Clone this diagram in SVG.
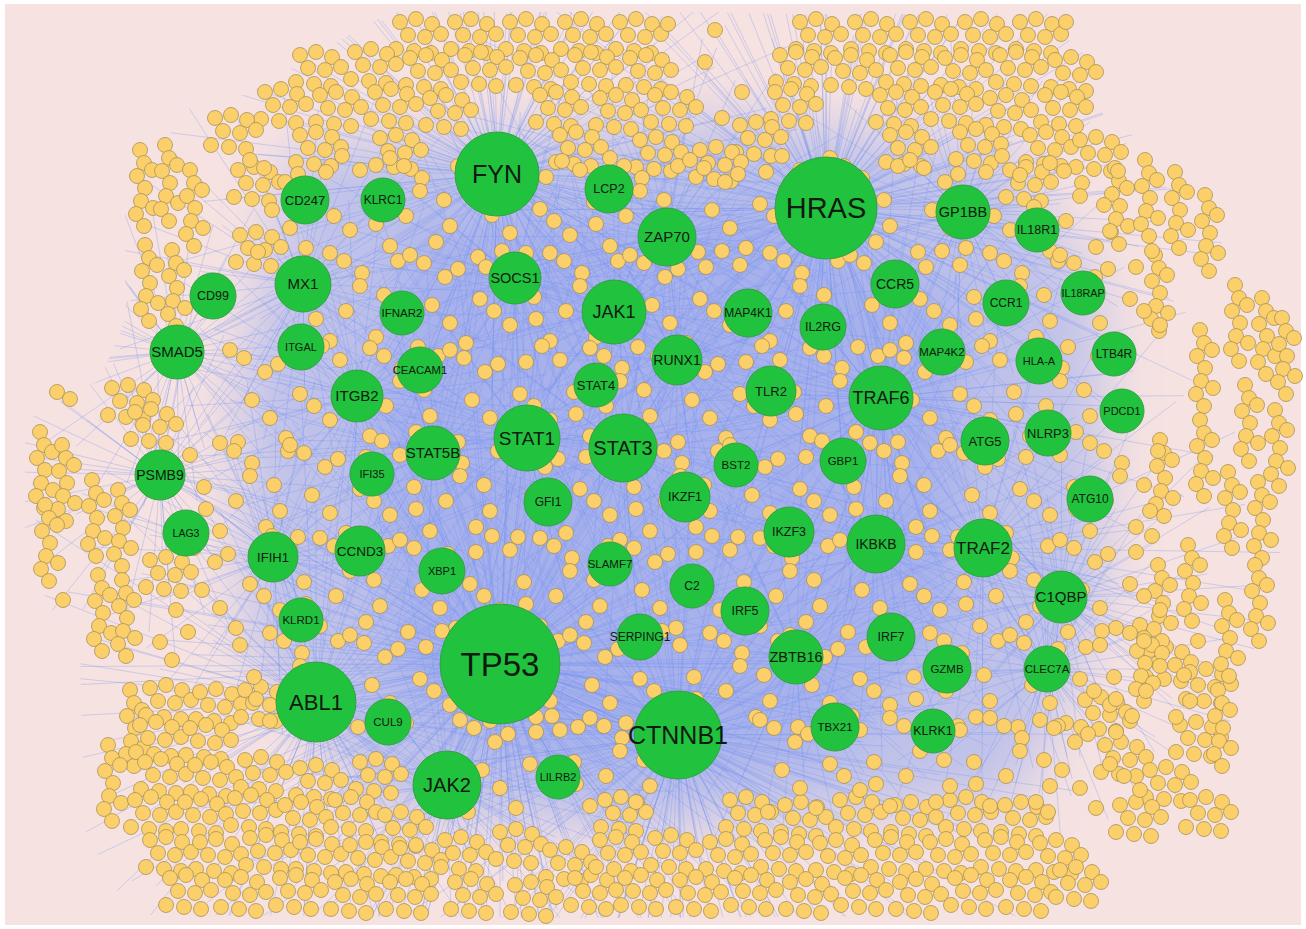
<svg xmlns="http://www.w3.org/2000/svg" xmlns:xlink="http://www.w3.org/1999/xlink" width="1306" height="929" viewBox="0 0 1306 929">
<style>
.hub{fill:#21c23d;stroke:#35a041;stroke-width:1}
.lbl{font-family:"Liberation Sans",Arial,sans-serif;fill:#0f1a10;text-anchor:middle}
</style>
<defs>
<filter id="blur" filterUnits="userSpaceOnUse" x="0" y="0" width="1306" height="929"><feGaussianBlur stdDeviation="28"/></filter>
<clipPath id="hull"><path d="M245 95L390 12L700 12L780 14L1070 14L1105 120L1160 150L1240 270L1300 300L1300 560L1240 700L1230 860L1100 915L600 918L130 915L85 830L80 660L25 560L25 420L100 380L125 320L125 140L200 100Z"/></clipPath>
<path id="r" vector-effect="non-scaling-stroke" d="M0 0L400 0M0 0L350 60M0 0L380 140M0 0L300 170M0 0L260 250M0 0L180 330M0 0L120 300M0 0L60 390M0 0L0 350M0 0L-70 400M0 0L-150 310M0 0L-220 320M0 0L-260 230M0 0L-380 180M0 0L-330 90M0 0L-410 20M0 0L-360 -60M0 0L-390 -150M0 0L-300 -190M0 0L-250 -280M0 0L-180 -300M0 0L-100 -380M0 0L-30 -330M0 0L50 -400M0 0L120 -320M0 0L200 -340M0 0L240 -250M0 0L330 -220M0 0L360 -120M0 0L420 -60M0 0L280 40M0 0L240 120M0 0L150 200M0 0L40 260M0 0L-120 230M0 0L-240 120M0 0L-280 -20M0 0L-230 -150M0 0L-120 -240M0 0L30 -270M0 0L170 -230M0 0L270 -120M0 0L200 20M0 0L190 90M0 0L120 160M0 0L20 200M0 0L-90 180M0 0L-180 100M0 0L-200 0M0 0L-170 -110M0 0L-80 -190M0 0L60 -200M0 0L150 -150M0 0L210 -60"/>
<g id="a" fill="#fbcf69" stroke="#a8925a" stroke-width="0.8"><circle cx="0" cy="0" r="7.5"/><circle cx="16" cy="-3" r="7.5"/><circle cx="32" cy="2" r="7.5"/><circle cx="8" cy="13" r="7.5"/><circle cx="25" cy="15" r="7.5"/><circle cx="41" cy="12" r="7.5"/><circle cx="-4" cy="27" r="7.5"/><circle cx="14" cy="29" r="7.5"/><circle cx="31" cy="31" r="7.5"/></g>
<g id="b" fill="#fbcf69" stroke="#a8925a" stroke-width="0.8"><circle cx="0" cy="0" r="7.5"/><circle cx="4" cy="13" r="7.5"/><circle cx="-3" cy="26" r="7.5"/><circle cx="5" cy="38" r="7.5"/><circle cx="1" cy="51" r="7.5"/><circle cx="-4" cy="64" r="7.5"/><circle cx="4" cy="76" r="7.5"/><circle cx="12" cy="20" r="7.5"/><circle cx="13" cy="58" r="7.5"/></g>
<g id="c" fill="#fbcf69" stroke="#a8925a" stroke-width="0.8"><circle cx="0" cy="0" r="7.5"/><circle cx="48" cy="14" r="7.5"/><circle cx="92" cy="-4" r="7.5"/><circle cx="22" cy="50" r="7.5"/><circle cx="70" cy="44" r="7.5"/><circle cx="8" cy="92" r="7.5"/><circle cx="56" cy="88" r="7.5"/><circle cx="100" cy="70" r="7.5"/><circle cx="35" cy="22" r="7.5"/><circle cx="14" cy="8" r="7.5"/><circle cx="84" cy="56" r="7.5"/><circle cx="40" cy="68" r="7.5"/><circle cx="76" cy="12" r="7.5"/></g>
<g id="d" fill="#fbcf69" stroke="#a8925a" stroke-width="0.8"><circle cx="0" cy="10" r="7.5"/><circle cx="30" cy="-2" r="7.5"/><circle cx="62" cy="18" r="7.5"/><circle cx="98" cy="6" r="7.5"/><circle cx="14" cy="42" r="7.5"/><circle cx="46" cy="56" r="7.5"/><circle cx="84" cy="40" r="7.5"/><circle cx="30" cy="86" r="7.5"/><circle cx="76" cy="82" r="7.5"/><circle cx="60" cy="31" r="7.5"/><circle cx="44" cy="6" r="7.5"/><circle cx="90" cy="66" r="7.5"/><circle cx="16" cy="64" r="7.5"/></g>
</defs>
<rect width="1306" height="929" fill="#ffffff"/>
<rect x="5" y="4" width="1296" height="921" fill="#f6e2e1"/>
<g id="haze" filter="url(#blur)">
<path d="M300 150L720 120L1000 150L1100 300L1100 600L1020 800L640 830L380 810L250 650L240 380Z" fill="#8aa2f2" opacity="0.5"/>
<path d="M420 220L760 200L960 300L960 620L820 760L560 780L400 700L360 420Z" fill="#819cf2" opacity="0.4"/>
</g>
<g id="edges" clip-path="url(#hull)" stroke="#7592f0" stroke-opacity="0.45" stroke-width="0.7" fill="none">
<use href="#r" transform="translate(500,664) scale(1.2)"/>
<use href="#r" transform="translate(500,664) rotate(17) scale(0.9)"/>
<use href="#r" transform="translate(500,664) rotate(33) scale(0.7)"/>
<use href="#r" transform="translate(500,664) rotate(8) scale(0.55)"/>
<use href="#r" transform="translate(500,664) rotate(25) scale(1.1)"/>
<use href="#r" transform="translate(826,208) rotate(5) scale(1.0)"/>
<use href="#r" transform="translate(826,208) rotate(25) scale(0.75)"/>
<use href="#r" transform="translate(826,208) rotate(40) scale(0.5)"/>
<use href="#r" transform="translate(826,208) rotate(15) scale(0.9)"/>
<use href="#r" transform="translate(497,174) rotate(10) scale(0.8)"/>
<use href="#r" transform="translate(497,174) rotate(30) scale(0.6)"/>
<use href="#r" transform="translate(497,174) rotate(20) scale(0.7)"/>
<use href="#r" transform="translate(678,735) rotate(8) scale(1.0)"/>
<use href="#r" transform="translate(678,735) rotate(27) scale(0.7)"/>
<use href="#r" transform="translate(678,735) rotate(18) scale(0.85)"/>
<use href="#r" transform="translate(316,702) rotate(12) scale(0.8)"/>
<use href="#r" transform="translate(316,702) rotate(31) scale(0.6)"/>
<use href="#r" transform="translate(447,785) rotate(20) scale(0.6)"/>
<use href="#r" transform="translate(623,447) rotate(4) scale(0.8)"/>
<use href="#r" transform="translate(525,437) rotate(22) scale(0.8)"/>
<use href="#r" transform="translate(615,311) rotate(14) scale(0.7)"/>
<use href="#r" transform="translate(880,398) rotate(18) scale(0.8)"/>
<use href="#r" transform="translate(880,398) rotate(2) scale(0.6)"/>
<use href="#r" transform="translate(983,548) rotate(9) scale(0.7)"/>
<use href="#r" transform="translate(876,544) rotate(27) scale(0.6)"/>
<use href="#r" transform="translate(667,237) rotate(3) scale(0.5)"/>
<use href="#r" transform="translate(303,284) rotate(36) scale(0.5)"/>
<use href="#r" transform="translate(358,396) rotate(12) scale(0.5)"/>
<use href="#r" transform="translate(433,453) rotate(40) scale(0.5)"/>
<use href="#r" transform="translate(515,278) rotate(7) scale(0.5)"/>
<use href="#r" transform="translate(677,360) rotate(29) scale(0.5)"/>
<use href="#r" transform="translate(1061,597) rotate(15) scale(0.5)"/>
<use href="#r" transform="translate(160,475) rotate(4) scale(0.45)"/>
<use href="#r" transform="translate(177,352) rotate(21) scale(0.4)"/>
<use href="#r" transform="translate(796,657) rotate(33) scale(0.5)"/>
<use href="#r" transform="translate(962,212) rotate(11) scale(0.45)"/>
<use href="#r" transform="translate(1047,669) rotate(24) scale(0.45)"/>
<use href="#r" transform="translate(274,557) rotate(6) scale(0.45)"/>
</g>
<g id="minor-nodes">
<use href="#a" x="400" y="22"/><use href="#a" x="455" y="22"/><use href="#a" x="510" y="22"/><use href="#a" x="565" y="22"/><use href="#a" x="620" y="22"/>
<use href="#a" x="300" y="55"/><use href="#a" x="355" y="52"/><use href="#a" x="410" y="58"/><use href="#a" x="465" y="55"/><use href="#a" x="520" y="58"/><use href="#a" x="575" y="55"/><use href="#a" x="630" y="58"/>
<use href="#a" x="265" y="92"/><use href="#a" x="320" y="95"/><use href="#a" x="375" y="92"/><use href="#a" x="430" y="98"/><use href="#a" x="540" y="95"/><use href="#a" x="600" y="98"/><use href="#a" x="655" y="95"/>
<use href="#a" x="300" y="135"/><use href="#a" x="380" y="138"/><use href="#a" x="560" y="135"/><use href="#a" x="640" y="140"/>
<use href="#a" x="800" y="22"/><use href="#a" x="855" y="22"/><use href="#a" x="910" y="22"/><use href="#a" x="965" y="22"/><use href="#a" x="1020" y="22"/>
<use href="#a" x="780" y="55"/><use href="#a" x="835" y="58"/><use href="#a" x="890" y="55"/><use href="#a" x="945" y="58"/><use href="#a" x="1000" y="55"/><use href="#a" x="1055" y="60"/>
<use href="#a" x="775" y="92"/><use href="#a" x="880" y="95"/><use href="#a" x="935" y="92"/><use href="#a" x="990" y="98"/><use href="#a" x="1045" y="95"/>
<use href="#a" x="740" y="125"/><use href="#a" x="890" y="135"/><use href="#a" x="960" y="132"/><use href="#a" x="1030" y="135"/><use href="#a" x="1080" y="140"/>
<use href="#a" x="1010" y="170"/><use href="#a" x="700" y="150"/>
<g fill="#fbcf69" stroke="#a8925a" stroke-width="0.8"><circle cx="715" cy="30" r="7.5"/><circle cx="705" cy="62" r="7.5"/><circle cx="742" cy="92" r="7.5"/><circle cx="722" cy="118" r="7.5"/><circle cx="57" cy="392" r="7.5"/><circle cx="70" cy="399" r="7.5"/><circle cx="160" cy="642" r="7.5"/><circle cx="176" cy="610" r="7.5"/><circle cx="172" cy="660" r="7.5"/><circle cx="63" cy="600" r="7.5"/><circle cx="668" cy="24" r="7.5"/><circle cx="1066" cy="22" r="7.5"/></g>
<use href="#b" x="140" y="150"/><use href="#b" x="165" y="145"/><use href="#b" x="190" y="170"/><use href="#b" x="145" y="245"/><use href="#b" x="172" y="250"/>
<use href="#a" x="215" y="118"/><use href="#a" x="238" y="170"/><use href="#a" x="240" y="235"/>
<use href="#b" x="40" y="432"/><use href="#b" x="62" y="445"/><use href="#b" x="45" y="505"/>
<use href="#b" x="92" y="480"/><use href="#b" x="118" y="490"/><use href="#b" x="98" y="575"/><use href="#b" x="122" y="580"/>
<use href="#a" x="112" y="388"/><use href="#a" x="135" y="412"/><use href="#a" x="150" y="560"/>
<use href="#b" x="130" y="690"/><use href="#b" x="108" y="745"/>
<use href="#a" x="150" y="688"/><use href="#a" x="200" y="692"/><use href="#a" x="245" y="690"/>
<use href="#a" x="140" y="725"/><use href="#a" x="190" y="728"/>
<use href="#a" x="145" y="762"/><use href="#a" x="195" y="765"/><use href="#a" x="245" y="760"/><use href="#a" x="300" y="768"/><use href="#a" x="360" y="762"/>
<use href="#a" x="135" y="800"/><use href="#a" x="185" y="802"/><use href="#a" x="235" y="798"/><use href="#a" x="285" y="805"/><use href="#a" x="335" y="800"/><use href="#a" x="385" y="815"/>
<use href="#a" x="150" y="840"/><use href="#a" x="200" y="842"/><use href="#a" x="250" y="838"/><use href="#a" x="300" y="842"/><use href="#a" x="350" y="845"/><use href="#a" x="400" y="848"/>
<use href="#a" x="170" y="878"/><use href="#a" x="225" y="880"/><use href="#a" x="280" y="878"/><use href="#a" x="335" y="882"/><use href="#a" x="390" y="882"/>
<use href="#a" x="445" y="840"/><use href="#a" x="500" y="832"/><use href="#a" x="550" y="850"/><use href="#a" x="455" y="882"/><use href="#a" x="515" y="885"/><use href="#a" x="575" y="878"/>
<use href="#a" x="605" y="800"/><use href="#a" x="730" y="800"/><use href="#a" x="785" y="805"/><use href="#a" x="840" y="800"/><use href="#a" x="895" y="805"/><use href="#a" x="950" y="800"/><use href="#a" x="1005" y="805"/>
<use href="#a" x="600" y="840"/><use href="#a" x="655" y="838"/><use href="#a" x="710" y="842"/><use href="#a" x="765" y="840"/><use href="#a" x="820" y="843"/><use href="#a" x="875" y="840"/><use href="#a" x="930" y="842"/><use href="#a" x="985" y="840"/><use href="#a" x="1040" y="843"/>
<use href="#a" x="625" y="878"/><use href="#a" x="680" y="880"/><use href="#a" x="735" y="878"/><use href="#a" x="790" y="882"/><use href="#a" x="845" y="878"/><use href="#a" x="900" y="882"/><use href="#a" x="955" y="878"/><use href="#a" x="1010" y="880"/><use href="#a" x="1060" y="870"/>
<use href="#a" x="1085" y="700"/><use href="#a" x="1105" y="745"/><use href="#a" x="1150" y="770"/><use href="#a" x="1180" y="725"/><use href="#a" x="1190" y="800"/><use href="#a" x="1120" y="805"/><use href="#a" x="1150" y="650"/><use href="#a" x="1190" y="672"/>
<use href="#b" x="1218" y="690"/>
<use href="#b" x="1115" y="168"/><use href="#b" x="1145" y="160"/><use href="#b" x="1175" y="172"/><use href="#b" x="1205" y="195"/><use href="#b" x="1155" y="255"/>
<use href="#b" x="1235" y="285"/><use href="#b" x="1262" y="298"/><use href="#b" x="1282" y="318"/><use href="#b" x="1200" y="330"/><use href="#b" x="1245" y="385"/><use href="#b" x="1275" y="410"/>
<use href="#b" x="1200" y="420"/><use href="#b" x="1160" y="440"/><use href="#b" x="1228" y="472"/><use href="#b" x="1258" y="482"/>
<use href="#b" x="1188" y="545"/><use href="#b" x="1158" y="565"/><use href="#b" x="1140" y="625"/><use href="#b" x="1225" y="600"/><use href="#b" x="1255" y="565"/>
<use href="#c" x="250" y="160"/><use href="#d" x="360" y="160"/><use href="#c" x="470" y="165"/><use href="#d" x="580" y="160"/><use href="#c" x="690" y="160"/><use href="#d" x="800" y="160"/><use href="#c" x="910" y="160"/><use href="#d" x="1020" y="165"/>
<use href="#d" x="300" y="255"/><use href="#c" x="410" y="255"/><use href="#d" x="520" y="255"/><use href="#c" x="630" y="255"/><use href="#d" x="740" y="255"/><use href="#c" x="850" y="255"/><use href="#d" x="960" y="255"/><use href="#c" x="1060" y="255"/>
<use href="#c" x="230" y="350"/><use href="#d" x="340" y="350"/><use href="#c" x="450" y="350"/><use href="#d" x="560" y="350"/><use href="#c" x="670" y="350"/><use href="#d" x="780" y="350"/><use href="#c" x="890" y="350"/><use href="#d" x="1000" y="350"/>
<use href="#d" x="190" y="445"/><use href="#c" x="290" y="445"/><use href="#d" x="400" y="445"/><use href="#c" x="510" y="445"/><use href="#d" x="620" y="445"/><use href="#c" x="730" y="445"/><use href="#d" x="840" y="445"/><use href="#c" x="950" y="445"/><use href="#d" x="1060" y="445"/>
<use href="#c" x="180" y="540"/><use href="#d" x="290" y="540"/><use href="#c" x="400" y="540"/><use href="#d" x="510" y="540"/><use href="#c" x="620" y="540"/><use href="#d" x="730" y="540"/><use href="#c" x="840" y="540"/><use href="#d" x="950" y="540"/><use href="#c" x="1060" y="540"/>
<use href="#d" x="240" y="635"/><use href="#c" x="350" y="635"/><use href="#d" x="460" y="635"/><use href="#c" x="570" y="635"/><use href="#d" x="680" y="635"/><use href="#c" x="790" y="635"/><use href="#d" x="900" y="635"/><use href="#c" x="1010" y="635"/><use href="#d" x="1100" y="635"/>
<use href="#c" x="460" y="720"/><use href="#d" x="560" y="720"/><use href="#c" x="760" y="720"/><use href="#d" x="860" y="720"/><use href="#d" x="960" y="720"/><use href="#c" x="1040" y="720"/>
</g>
<g id="n-TP53"><circle class="hub" cx="500" cy="664" r="60"/><text class="lbl" x="500" y="664" dy="0.35em" font-size="33">TP53</text></g>
<g id="n-HRAS"><circle class="hub" cx="826" cy="208" r="51"/><text class="lbl" x="826" y="208" dy="0.35em" font-size="29">HRAS</text></g>
<g id="n-FYN"><circle class="hub" cx="497" cy="174" r="42"/><text class="lbl" x="497" y="174" dy="0.35em" font-size="25">FYN</text></g>
<g id="n-CTNNB1"><circle class="hub" cx="678" cy="735" r="44"/><text class="lbl" x="678" y="735" dy="0.35em" font-size="25" fill="#0c0c2a">CTNNB1</text></g>
<g id="n-ABL1"><circle class="hub" cx="316" cy="702" r="40"/><text class="lbl" x="316" y="702" dy="0.35em" font-size="22">ABL1</text></g>
<g id="n-JAK2"><circle class="hub" cx="447" cy="785" r="34"/><text class="lbl" x="447" y="785" dy="0.35em" font-size="20">JAK2</text></g>
<g id="n-CUL9"><circle class="hub" cx="388" cy="722" r="23"/><text class="lbl" x="388" y="722" dy="0.35em" font-size="11.5">CUL9</text></g>
<g id="n-LILRB2"><circle class="hub" cx="558" cy="777" r="22"/><text class="lbl" x="558" y="777" dy="0.35em" font-size="11">LILRB2</text></g>
<g id="n-CD247"><circle class="hub" cx="305" cy="200" r="24"/><text class="lbl" x="305" y="200" dy="0.35em" font-size="13">CD247</text></g>
<g id="n-KLRC1"><circle class="hub" cx="383" cy="200" r="22"/><text class="lbl" x="383" y="200" dy="0.35em" font-size="12">KLRC1</text></g>
<g id="n-MX1"><circle class="hub" cx="303" cy="284" r="28"/><text class="lbl" x="303" y="284" dy="0.35em" font-size="15">MX1</text></g>
<g id="n-CD99"><circle class="hub" cx="213" cy="296" r="23"/><text class="lbl" x="213" y="296" dy="0.35em" font-size="12.5">CD99</text></g>
<g id="n-SMAD5"><circle class="hub" cx="177" cy="352" r="27"/><text class="lbl" x="177" y="352" dy="0.35em" font-size="15">SMAD5</text></g>
<g id="n-ITGAL"><circle class="hub" cx="301" cy="347" r="23"/><text class="lbl" x="301" y="347" dy="0.35em" font-size="11">ITGAL</text></g>
<g id="n-IFNAR2"><circle class="hub" cx="402" cy="313" r="22"/><text class="lbl" x="402" y="313" dy="0.35em" font-size="11.5">IFNAR2</text></g>
<g id="n-CEACAM1"><circle class="hub" cx="420" cy="370" r="23"/><text class="lbl" x="420" y="370" dy="0.35em" font-size="11.3">CEACAM1</text></g>
<g id="n-ITGB2"><circle class="hub" cx="357" cy="396" r="26"/><text class="lbl" x="357" y="396" dy="0.35em" font-size="15">ITGB2</text></g>
<g id="n-PSMB9"><circle class="hub" cx="160" cy="475" r="25"/><text class="lbl" x="160" y="475" dy="0.35em" font-size="14">PSMB9</text></g>
<g id="n-LAG3"><circle class="hub" cx="186" cy="533" r="23"/><text class="lbl" x="186" y="533" dy="0.35em" font-size="10.5">LAG3</text></g>
<g id="n-IFIH1"><circle class="hub" cx="273" cy="557" r="25"/><text class="lbl" x="273" y="557" dy="0.35em" font-size="13">IFIH1</text></g>
<g id="n-CCND3"><circle class="hub" cx="360" cy="551" r="25"/><text class="lbl" x="360" y="551" dy="0.35em" font-size="13.5">CCND3</text></g>
<g id="n-XBP1"><circle class="hub" cx="442" cy="571" r="23"/><text class="lbl" x="442" y="571" dy="0.35em" font-size="11">XBP1</text></g>
<g id="n-KLRD1"><circle class="hub" cx="301" cy="620" r="22"/><text class="lbl" x="301" y="620" dy="0.35em" font-size="11.5">KLRD1</text></g>
<g id="n-IFI35"><circle class="hub" cx="372" cy="474" r="22"/><text class="lbl" x="372" y="474" dy="0.35em" font-size="11">IFI35</text></g>
<g id="n-STAT5B"><circle class="hub" cx="433" cy="453" r="27"/><text class="lbl" x="433" y="453" dy="0.35em" font-size="15">STAT5B</text></g>
<g id="n-STAT1"><circle class="hub" cx="527" cy="438" r="33"/><text class="lbl" x="527" y="438" dy="0.35em" font-size="19">STAT1</text></g>
<g id="n-STAT3"><circle class="hub" cx="623" cy="448" r="34"/><text class="lbl" x="623" y="448" dy="0.35em" font-size="20">STAT3</text></g>
<g id="n-STAT4"><circle class="hub" cx="596" cy="385" r="22"/><text class="lbl" x="596" y="385" dy="0.35em" font-size="13">STAT4</text></g>
<g id="n-GFI1"><circle class="hub" cx="548" cy="502" r="24"/><text class="lbl" x="548" y="502" dy="0.35em" font-size="12">GFI1</text></g>
<g id="n-SLAMF7"><circle class="hub" cx="610" cy="564" r="22"/><text class="lbl" x="610" y="564" dy="0.35em" font-size="11.5">SLAMF7</text></g>
<g id="n-SOCS1"><circle class="hub" cx="515" cy="278" r="26"/><text class="lbl" x="515" y="278" dy="0.35em" font-size="14.5">SOCS1</text></g>
<g id="n-LCP2"><circle class="hub" cx="609" cy="189" r="24"/><text class="lbl" x="609" y="189" dy="0.35em" font-size="12.5">LCP2</text></g>
<g id="n-ZAP70"><circle class="hub" cx="667" cy="237" r="29"/><text class="lbl" x="667" y="237" dy="0.35em" font-size="15">ZAP70</text></g>
<g id="n-JAK1"><circle class="hub" cx="614" cy="312" r="32"/><text class="lbl" x="614" y="312" dy="0.35em" font-size="18">JAK1</text></g>
<g id="n-RUNX1"><circle class="hub" cx="677" cy="360" r="25"/><text class="lbl" x="677" y="360" dy="0.35em" font-size="14">RUNX1</text></g>
<g id="n-MAP4K1"><circle class="hub" cx="748" cy="313" r="24"/><text class="lbl" x="748" y="313" dy="0.35em" font-size="12">MAP4K1</text></g>
<g id="n-IL2RG"><circle class="hub" cx="823" cy="327" r="23"/><text class="lbl" x="823" y="327" dy="0.35em" font-size="12.5">IL2RG</text></g>
<g id="n-TLR2"><circle class="hub" cx="771" cy="391" r="25"/><text class="lbl" x="771" y="391" dy="0.35em" font-size="13">TLR2</text></g>
<g id="n-BST2"><circle class="hub" cx="736" cy="465" r="22"/><text class="lbl" x="736" y="465" dy="0.35em" font-size="11.5">BST2</text></g>
<g id="n-IKZF1"><circle class="hub" cx="685" cy="497" r="25"/><text class="lbl" x="685" y="497" dy="0.35em" font-size="12.5">IKZF1</text></g>
<g id="n-IKZF3"><circle class="hub" cx="789" cy="532" r="25"/><text class="lbl" x="789" y="532" dy="0.35em" font-size="12.5">IKZF3</text></g>
<g id="n-C2"><circle class="hub" cx="692" cy="586" r="22"/><text class="lbl" x="692" y="586" dy="0.35em" font-size="12">C2</text></g>
<g id="n-IRF5"><circle class="hub" cx="745" cy="611" r="24"/><text class="lbl" x="745" y="611" dy="0.35em" font-size="12.5">IRF5</text></g>
<g id="n-SERPING1"><circle class="hub" cx="640" cy="637" r="23"/><text class="lbl" x="640" y="637" dy="0.35em" font-size="12" fill="#141836">SERPING1</text></g>
<g id="n-ZBTB16"><circle class="hub" cx="796" cy="657" r="27"/><text class="lbl" x="796" y="657" dy="0.35em" font-size="14.5">ZBTB16</text></g>
<g id="n-IRF7"><circle class="hub" cx="891" cy="637" r="24"/><text class="lbl" x="891" y="637" dy="0.35em" font-size="12.5">IRF7</text></g>
<g id="n-TBX21"><circle class="hub" cx="835" cy="727" r="24"/><text class="lbl" x="835" y="727" dy="0.35em" font-size="11.5">TBX21</text></g>
<g id="n-GZMB"><circle class="hub" cx="947" cy="669" r="24"/><text class="lbl" x="947" y="669" dy="0.35em" font-size="11.5">GZMB</text></g>
<g id="n-KLRK1"><circle class="hub" cx="933" cy="731" r="22"/><text class="lbl" x="933" y="731" dy="0.35em" font-size="12.5">KLRK1</text></g>
<g id="n-CLEC7A"><circle class="hub" cx="1047" cy="669" r="23"/><text class="lbl" x="1047" y="669" dy="0.35em" font-size="11.5">CLEC7A</text></g>
<g id="n-C1QBP"><circle class="hub" cx="1061" cy="597" r="26"/><text class="lbl" x="1061" y="597" dy="0.35em" font-size="15">C1QBP</text></g>
<g id="n-TRAF2"><circle class="hub" cx="983" cy="548" r="29"/><text class="lbl" x="983" y="548" dy="0.35em" font-size="17">TRAF2</text></g>
<g id="n-IKBKB"><circle class="hub" cx="876" cy="544" r="29"/><text class="lbl" x="876" y="544" dy="0.35em" font-size="14">IKBKB</text></g>
<g id="n-GBP1"><circle class="hub" cx="843" cy="461" r="23"/><text class="lbl" x="843" y="461" dy="0.35em" font-size="11.5">GBP1</text></g>
<g id="n-TRAF6"><circle class="hub" cx="881" cy="398" r="32"/><text class="lbl" x="881" y="398" dy="0.35em" font-size="18">TRAF6</text></g>
<g id="n-MAP4K2"><circle class="hub" cx="942" cy="352" r="23"/><text class="lbl" x="942" y="352" dy="0.35em" font-size="11.5">MAP4K2</text></g>
<g id="n-CCR5"><circle class="hub" cx="895" cy="284" r="24"/><text class="lbl" x="895" y="284" dy="0.35em" font-size="14">CCR5</text></g>
<g id="n-GP1BB"><circle class="hub" cx="963" cy="212" r="27"/><text class="lbl" x="963" y="212" dy="0.35em" font-size="14.5">GP1BB</text></g>
<g id="n-IL18R1"><circle class="hub" cx="1037" cy="230" r="22"/><text class="lbl" x="1037" y="230" dy="0.35em" font-size="12.5">IL18R1</text></g>
<g id="n-CCR1"><circle class="hub" cx="1006" cy="303" r="23"/><text class="lbl" x="1006" y="303" dy="0.35em" font-size="12">CCR1</text></g>
<g id="n-IL18RAP"><circle class="hub" cx="1083" cy="293" r="22"/><text class="lbl" x="1083" y="293" dy="0.35em" font-size="10.8">IL18RAP</text></g>
<g id="n-HLA-A"><circle class="hub" cx="1039" cy="361" r="23"/><text class="lbl" x="1039" y="361" dy="0.35em" font-size="11">HLA-A</text></g>
<g id="n-LTB4R"><circle class="hub" cx="1114" cy="354" r="22"/><text class="lbl" x="1114" y="354" dy="0.35em" font-size="12">LTB4R</text></g>
<g id="n-PDCD1"><circle class="hub" cx="1122" cy="411" r="22"/><text class="lbl" x="1122" y="411" dy="0.35em" font-size="11">PDCD1</text></g>
<g id="n-NLRP3"><circle class="hub" cx="1048" cy="433" r="23"/><text class="lbl" x="1048" y="433" dy="0.35em" font-size="13">NLRP3</text></g>
<g id="n-ATG5"><circle class="hub" cx="985" cy="441" r="24"/><text class="lbl" x="985" y="441" dy="0.35em" font-size="13">ATG5</text></g>
<g id="n-ATG10"><circle class="hub" cx="1090" cy="499" r="23"/><text class="lbl" x="1090" y="499" dy="0.35em" font-size="12">ATG10</text></g>
</svg>
